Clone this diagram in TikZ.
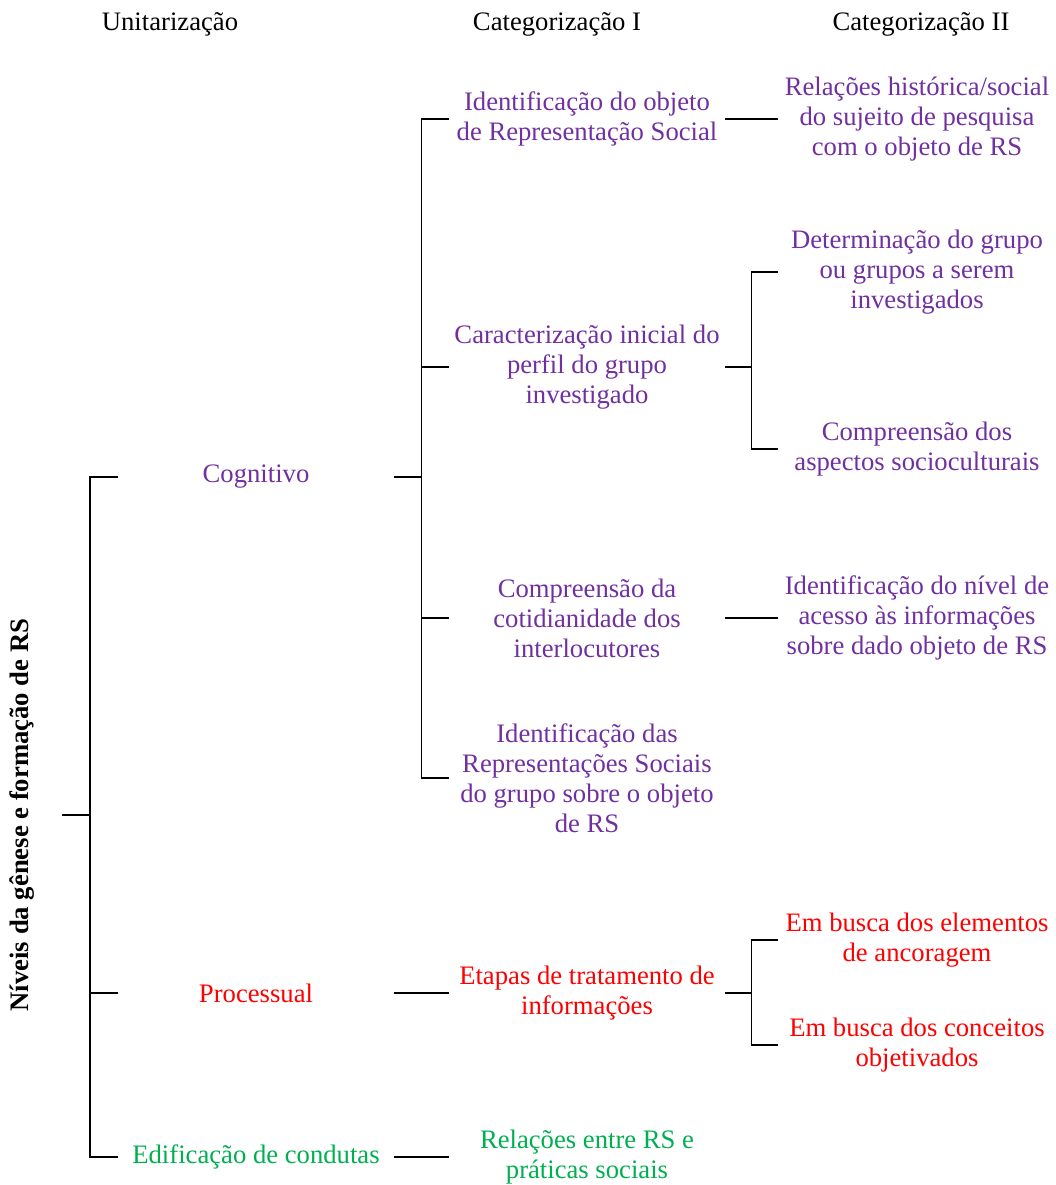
\documentclass[tikz,border=0pt]{standalone}
\usepackage{fontspec}
\setmainfont{Liberation Serif}
\usetikzlibrary{calc}
\definecolor{rsroxo}{HTML}{7030A0}
\definecolor{rsverde}{HTML}{00B050}
\definecolor{rsvermelho}{HTML}{FF0000}
\tikzstyle{cabeca}=[font=\fontsize{20}{23}\selectfont, inner sep=0pt]
\tikzstyle{nivel}=[minimum width=207pt, inner sep=0pt, align=center, font=\fontsize{20}{22.5}\selectfont]
\tikzstyle{catdois}=[nivel, minimum width=208.5pt]
\tikzstyle{ligacao}=[draw, line width=0.9pt]

\begin{document}
\begin{tikzpicture}[x=0.75pt, y=-0.75pt]
    \useasboundingbox (0,0) rectangle (1056,1185);
    % Column titles
    \foreach \pos/ \name/ \texto in {{(170,24)/hA/Unitarização},{(557,24)/hB/Categorização I},{(921,24)/hC/Categorização II}}
        \node[cabeca] (\name) at \pos {\texto};

    % Root of the tree
    \node[font=\bfseries\fontsize{20}{23}\selectfont, rotate=90, minimum height=60pt, inner sep=0pt] (raiz) at (22,815) {Níveis da gênese e formação de RS};

    % First we draw the unitarization level
    \node[nivel, rsroxo] (cog) at (256,477) {Cognitivo};
    \node[nivel, rsvermelho] (proc) at (256,993) {Processual};
    \node[nivel, rsverde] (edif) at (256,1157) {Edificação de condutas};

    % Categorization I
    \node[nivel, rsroxo] (ciA) at (587,119) {Identificação do objeto\\de Representação Social};
    \node[nivel, rsroxo] (ciB) at (587,367) {Caracterização inicial do\\perfil do grupo\\investigado};
    \node[nivel, rsroxo] (ciC) at (587,618) {Compreensão da\\cotidianidade dos\\interlocutores};
    \node[nivel, rsroxo] (ciD) at (587,778) {Identificação das\\Representações Sociais\\do grupo sobre o objeto\\de RS};
    \node[nivel, rsvermelho] (ciE) at (587,993) {Etapas de tratamento de\\informações};
    \node[nivel, rsverde] (ciF) at (587,1157) {Relações entre RS e\\práticas sociais};

    % Categorization II
    \node[catdois, rsroxo] (ciiA) at (917,119) {Relações histórica/social\\do sujeito de pesquisa\\com o objeto de RS};
    \node[catdois, rsroxo] (ciiB) at (917,272) {Determinação do grupo\\ou grupos a serem\\investigados};
    \node[catdois, rsroxo] (ciiC) at (917,449) {Compreensão dos\\aspectos socioculturais};
    \node[catdois, rsroxo] (ciiD) at (917,618) {Identificação do nível de\\acesso às informações\\sobre dado objeto de RS};
    \node[catdois, rsvermelho] (ciiE) at (917,940) {Em busca dos elementos\\de ancoragem};
    \node[catdois, rsvermelho] (ciiF) at (917,1045) {Em busca dos conceitos\\objetivados};

    % Brackets
    \coordinate (jA) at ($(raiz.south)!0.5!(raiz.south -| cog.west)$);
    \coordinate (jB) at ($(cog.east)!0.5!(cog.east -| ciA.west)$);
    \coordinate (jC) at ($(ciB.east)!0.5!(ciB.east -| ciiB.west)$);
    \coordinate (jD) at ($(ciE.east)!0.5!(ciE.east -| ciiE.west)$);

    \path[ligacao] (raiz.south) -- (jA);
    \path[ligacao] (cog.west) -| (jA) |- (edif.west);
    \path[ligacao] (proc.west) -- (proc.west -| jA);

    \path[ligacao] (cog.east) -- (jB);
    \path[ligacao] (ciA.west) -| (jB) |- (ciD.west);
    \foreach \dest in {ciB, ciC}
        \path[ligacao] (\dest.west) -- (\dest.west -| jB);

    \path[ligacao] (ciB.east) -- (jC);
    \path[ligacao] (ciiB.west) -| (jC) |- (ciiC.west);
    \path[ligacao] (ciE.east) -- (jD);
    \path[ligacao] (ciiE.west) -| (jD) |- (ciiF.west);

    % Straight links
    \foreach \source/ \dest in {proc/ciE, edif/ciF, ciA/ciiA, ciC/ciiD}
        \path[ligacao] (\source.east) -- (\dest.west);
\end{tikzpicture}
\end{document}
